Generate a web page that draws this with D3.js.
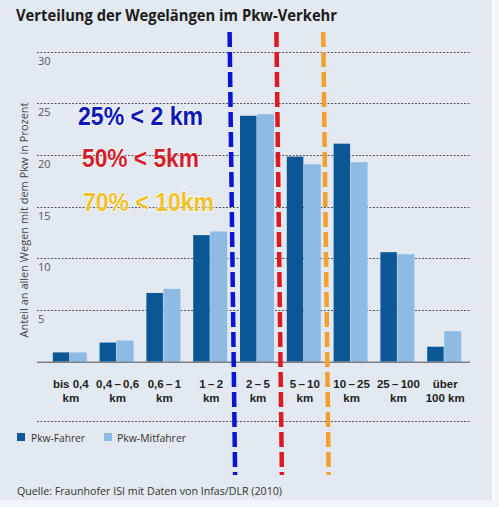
<!DOCTYPE html>
<html><head><meta charset="utf-8">
<script src="https://cdn.jsdelivr.net/npm/d3@7/dist/d3.min.js"></script>
<style>
html,body{margin:0;padding:0;background:#f1f4f8;}
svg{display:block;}
</style></head>
<body>
<svg id="c" width="499" height="507"></svg>
<script>
const categories = [["bis 0,4","km"],["0,4\u2009–\u20090,6","km"],["0,6\u2009–\u20091","km"],["1\u2009–\u20092","km"],["2\u2009–\u20095","km"],["5\u2009–\u200910","km"],["10\u2009–\u200925","km"],["25\u2009–\u2009100","km"],["über","100 km"]];
const fahrer    = [0.9, 1.85, 6.65, 12.25, 23.8, 19.85, 21.1, 10.6, 1.45];
const mitfahrer = [0.9, 2.05, 7.05, 12.6, 23.95, 19.1, 19.3, 10.4, 2.95];
const seriesNames = ["Pkw-Fahrer","Pkw-Mitfahrer"];
const yTicks = [5,10,15,20,25,30];
const annotations = [
  {text:"25% < 2 km", after:3, color:"#0d17b8"},
  {text:"50% < 5km", after:4, color:"#d21f2b"},
  {text:"70% < 10km", after:5, color:"#f2c22a"}
];
const lineColors = ["#0a14d2","#dc1a24","#f2a030"];

const svg = d3.select("#c");
const colDark = "#0b5796", colLight = "#8dbbe3";

svg.append("rect").attr("x",0).attr("y",0).attr("width",492).attr("height",500).attr("fill","#e3e9f0");
svg.append("rect").attr("x",492).attr("y",0).attr("width",3).attr("height",500).attr("fill","#fbfcfd");

const x = d3.scaleBand().domain(d3.range(categories.length)).range([40,474]).paddingInner(0.2735).paddingOuter(0.2735);
const bw = x.bandwidth()/2;
const y = d3.scaleLinear().domain([0,30]).range([361.7,51.7]);

// title
svg.append("text").attr("x",16).attr("y",21).attr("font-family","Open Sans, sans-serif").attr("font-weight","bold")
  .attr("font-size",16.5).attr("fill","#1b1b1b").attr("textLength",321).attr("lengthAdjust","spacingAndGlyphs")
  .text("Verteilung der Wegelängen im Pkw-Verkehr");

// gridlines
svg.append("g").selectAll("line").data(yTicks).join("line")
  .attr("x1",37).attr("x2",470).attr("y1",d=>Math.round(y(d))+0.5).attr("y2",d=>Math.round(y(d))+0.5)
  .attr("stroke","#555").attr("stroke-width",1).attr("stroke-dasharray","2,1.5");
svg.append("g").selectAll("text").data(yTicks).join("text")
  .attr("x",38).attr("y",d=>y(d)+13).attr("font-family","Open Sans, sans-serif").attr("font-size",11)
  .attr("fill","#555").text(d=>d);

// bottom separator
svg.append("line").attr("x1",37).attr("x2",470).attr("y1",421.5).attr("y2",421.5)
  .attr("stroke","#555").attr("stroke-dasharray","2,1.5");

// y title
svg.append("text").attr("transform","translate(28,220) rotate(-90)").attr("text-anchor","middle")
  .attr("font-family","Open Sans, sans-serif").attr("font-size",11).attr("fill","#444")
  .text("Anteil an allen Wegen mit dem Pkw in Prozent");

// bars
const g = svg.append("g");
g.selectAll(".d").data(fahrer).join("rect").attr("x",(d,i)=>x(i)).attr("width",bw-0.5)
  .attr("y",d=>y(d)).attr("height",d=>y(0)-y(d)).attr("fill",colDark);
g.selectAll(".l").data(mitfahrer).join("rect").attr("x",(d,i)=>x(i)+bw).attr("width",bw)
  .attr("y",d=>y(d)).attr("height",d=>y(0)-y(d)).attr("fill",colLight);

// x axis
svg.append("line").attr("x1",37).attr("x2",470).attr("y1",y(0)+0.5).attr("y2",y(0)+0.5).attr("stroke","#7a7f86").attr("stroke-width",1.5);

// x labels (two lines as separate texts)
[0,1].forEach(li=>{
  svg.append("g").selectAll("text").data(categories).join("text")
    .attr("text-anchor","middle").attr("font-family","Liberation Sans, Arial, sans-serif").attr("font-weight","bold")
    .attr("font-size",11.5).attr("fill","#222")
    .attr("x",(d,i)=>x(i)+x.bandwidth()/2+1).attr("y",li?401.5:387.5).text(d=>d[li]);
});

// legend
const leg = svg.append("g");
[[17,colDark,seriesNames[0],31,54],[104,colLight,seriesNames[1],117,69]].forEach(([lx,c,t,tx,tw])=>{
  leg.append("rect").attr("x",lx).attr("y",433).attr("width",8).attr("height",8).attr("fill",c);
  leg.append("text").attr("x",tx).attr("y",442).attr("font-family","Open Sans, sans-serif").attr("font-size",11.5)
    .attr("fill","#333").attr("textLength",tw).attr("lengthAdjust","spacingAndGlyphs").text(t);
});

// source
svg.append("text").attr("x",17).attr("y",495).attr("font-family","Open Sans, sans-serif").attr("font-size",11.5)
  .attr("fill","#333").attr("textLength",265).attr("lengthAdjust","spacingAndGlyphs")
  .text("Quelle: Fraunhofer ISI mit Daten von Infas/DLR (2010)");

// dashed annotation lines at category boundaries
annotations.forEach((a,k)=>{
  const bx = (x(a.after)+x.bandwidth()+x(a.after+1))/2;
  svg.append("line").attr("x1",bx-4).attr("x2",bx+1.5).attr("y1",32).attr("y2",475)
    .attr("stroke",lineColors[k]).attr("stroke-width",4.5).attr("stroke-dasharray","15,5");
});

// annotation texts
const ay = [125,167,211];
const ax = [78,82,83];
const aw = [125,117,131];
annotations.forEach((a,k)=>{
  svg.append("text").attr("x",ax[k]).attr("y",ay[k]).attr("font-family","Liberation Sans, Arial, sans-serif")
    .attr("font-weight","bold").attr("font-size",25).attr("fill",a.color)
    .attr("stroke","#ffffff").attr("stroke-opacity",0.6).attr("stroke-width",2).attr("paint-order","stroke")
    .attr("textLength",aw[k]).attr("lengthAdjust","spacingAndGlyphs").text(a.text);
});
</script>
</body></html>
